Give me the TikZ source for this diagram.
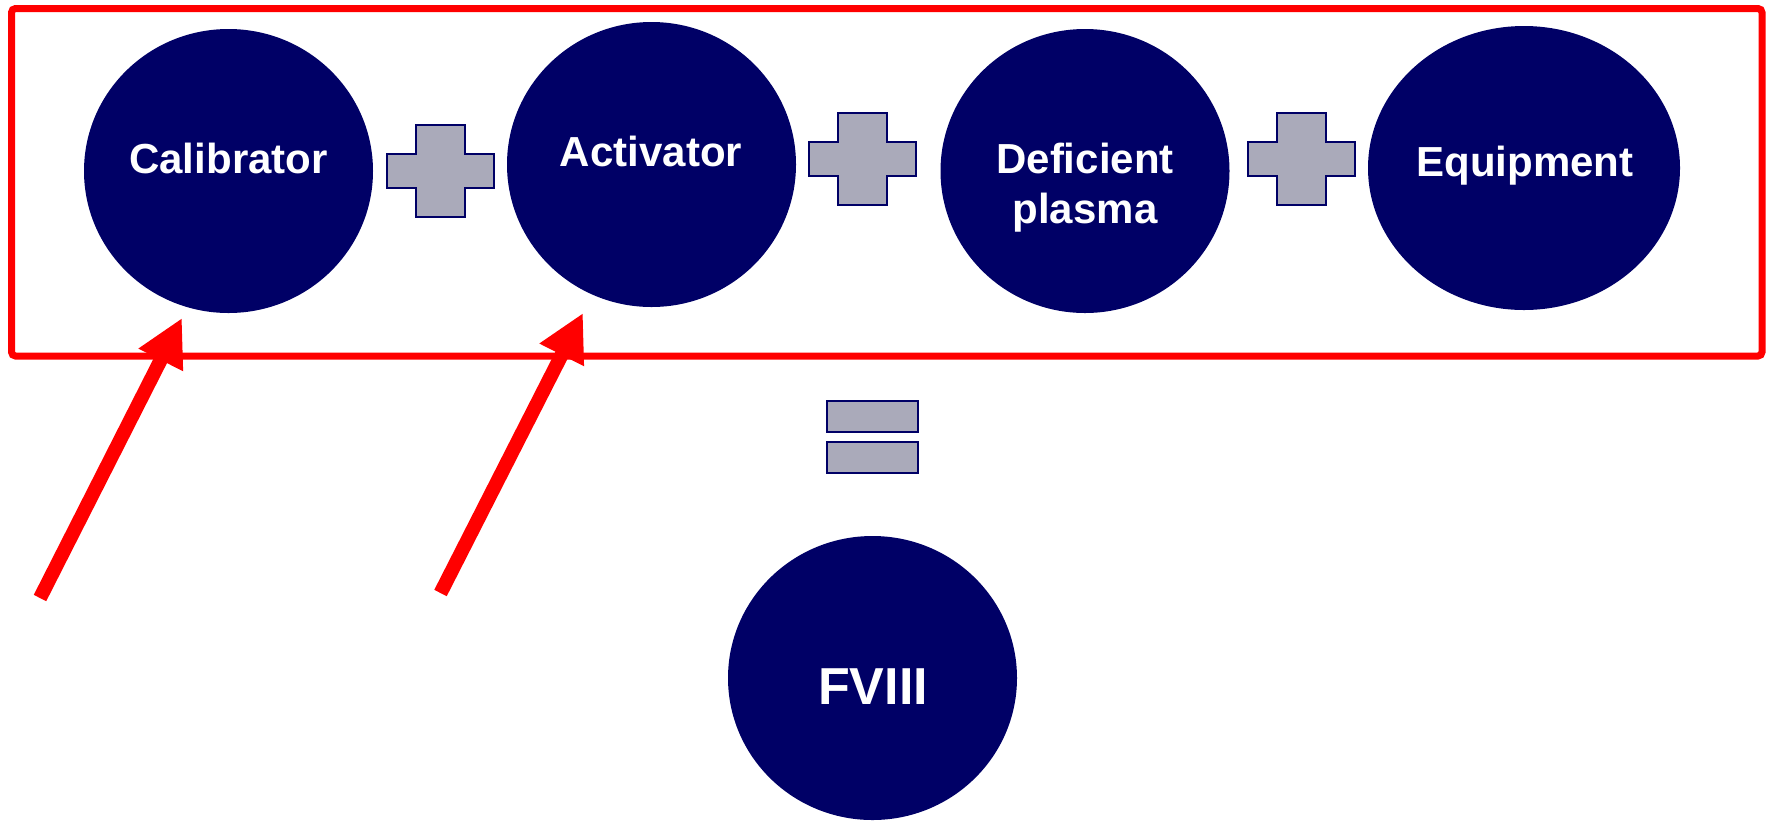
\documentclass[tikz,border=0pt]{standalone}
\usepackage{fontspec}
\setmainfont{Liberation Sans}
\usetikzlibrary{positioning}
\usetikzlibrary{shapes.geometric,arrows.meta}

\definecolor{blobnavy}{RGB}{0,0,102}
\definecolor{signgrey}{RGB}{170,170,186}
\definecolor{framered}{RGB}{255,0,0}

\begin{document}
\begin{tikzpicture}[x=0.5pt,y=-0.5pt]
\tikzset{blob/.style={shape=ellipse, fill=blobnavy, inner sep=0pt, minimum width=144.5pt, minimum height=142pt},
  blobtext/.style={text=white, anchor=base, inner sep=0pt, font=\bfseries\fontsize{21}{25}\selectfont},
  signpart/.style={draw=blobnavy, line width=1pt, fill=signgrey},
  redarrow/.style={draw=framered, line width=7pt, -{Triangle[length=23.5pt,width=23.25pt]}}}
\useasboundingbox (0,0) rectangle (1772,821);
% frame round the four parts
\draw[framered, line width=3.5pt, rounded corners=2pt] (11.5,8.5) rectangle (1762,356);
\node[blob] at (228.5,171) (cal) {};
\node[blob, minimum height=142.5pt] at (651.5,164.5) (act) {};
\node[blob] at (1085,171) (def) {};
\node[blob, minimum width=156pt] at (1524,168) (equ) {};
\node[blob] at (872.5,678) (fviii) {};
\node[blobtext] at (228.5,173) (caltext) {Calibrator};
\node[blobtext] at (651,166) (acttext) {Activator};
\node[blobtext] at (1085,173) (deftext) {Deficient};
\node[blobtext] at (1085,223) (plastext) {plasma};
\node[blobtext] at (1525,176) (equtext) {Equipment};
\node[blobtext, font=\bfseries\fontsize{26}{30}\selectfont] at (873,704) (fviiitext) {FVIII};
% plus signs
\foreach \cx/\cy in {440.5/171, 862.5/159, 1301.5/159}{
\draw[signpart] (\cx-24.5,\cy-46) -- ++(49,0) -- ++(0,29) -- ++(29,0) -- ++(0,34) -- ++(-29,0)
  -- ++(0,29) -- ++(-49,0) -- ++(0,-29) -- ++(-29,0) -- ++(0,-34) -- ++(29,0) -- cycle;
}
% equals sign
\node[signpart, shape=rectangle, inner sep=0pt, minimum width=45.5pt, minimum height=15.5pt] at (872.5,416.5) (eqtop) {};
\node[signpart, shape=rectangle, inner sep=0pt, minimum width=45.5pt, minimum height=15.5pt] at (872.5,457.5) (eqbot) {};
% red arrows
\coordinate (caltail) at (40,598);
\coordinate (caltip) at (182,318);
\coordinate (acttail) at (440.5,593);
\coordinate (acttip) at (583,313);
\draw[redarrow] (caltail) -- (caltip);
\draw[redarrow] (acttail) -- (acttip);
\end{tikzpicture}
\end{document}
